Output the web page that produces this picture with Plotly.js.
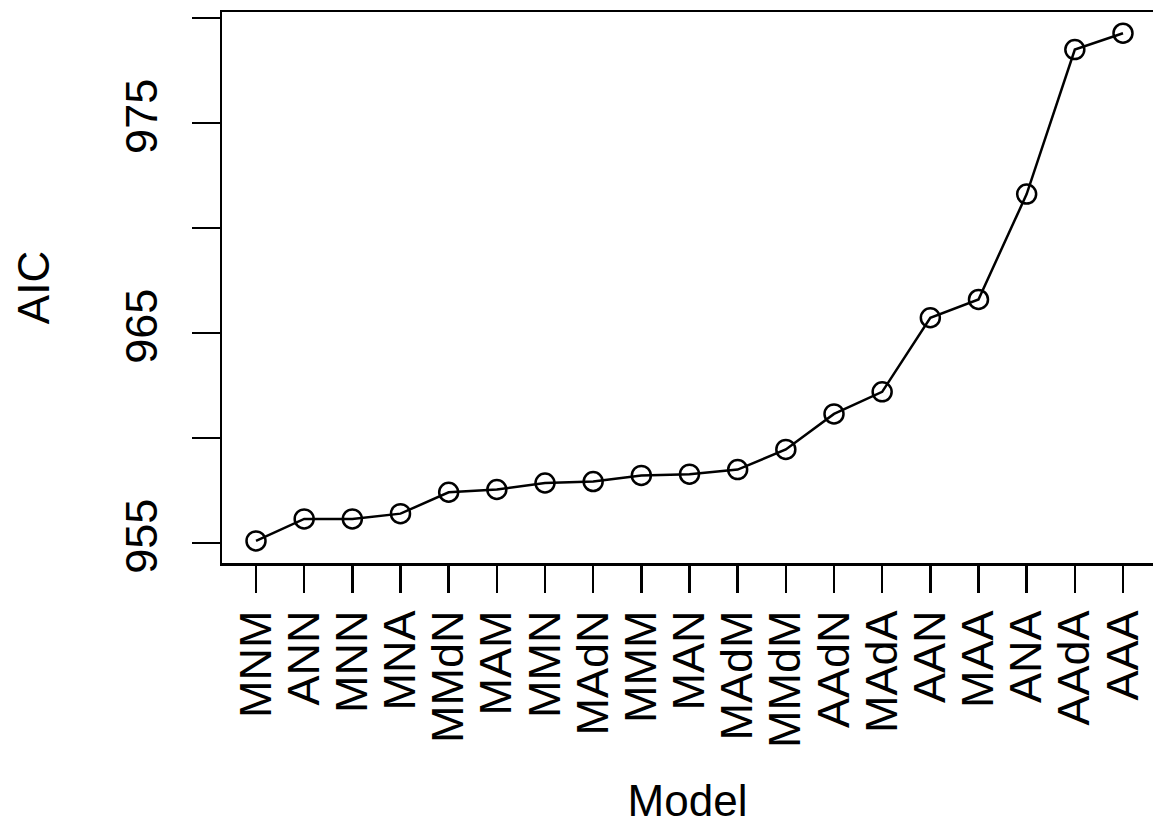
<!DOCTYPE html>
<html>
<head>
<meta charset="utf-8">
<script src="https://cdn.plot.ly/plotly-3.0.1.min.js"></script>
<style>
  html, body { margin: 0; padding: 0; background: #fff; overflow: hidden; }
  #chart { width: 1153px; height: 825px; }
</style>
</head>
<body>
<div id="chart"></div>
<script>
// Model names, ordered by AIC
const models = ["MNM", "ANN", "MNN", "MNA", "MMdN", "MAM", "MMN", "MAdN", "MMM", "MAN",
                "MAdM", "MMdM", "AAdN", "MAdA", "AAN", "MAA", "ANA", "AAdA", "AAA"];
// AIC for each model
const aic = [955.1, 956.15, 956.15, 956.4, 957.42, 957.55, 957.86, 957.93, 958.22, 958.28,
             958.5, 959.46, 961.15, 962.2, 965.73, 966.6, 971.62, 978.5, 979.28];
// y-axis ticks: every 5, only alternate ones labelled
const yTickVals = [955, 960, 965, 970, 975, 980];
const yTickText = ["955", "", "965", "", "975", ""];

const idx = models.map((_, i) => i + 1);
const font = "Liberation Sans, Arial, Helvetica, sans-serif";

const trace = {
  x: idx,
  y: aic,
  type: "scatter",
  mode: "lines+markers",
  line: { color: "#000", width: 2.5 },
  marker: { symbol: "circle-open", size: 19, color: "#000", line: { width: 2.5, color: "#000" } },
  hoverinfo: "x+y"
};

const layout = {
  width: 1153,
  height: 825,
  margin: { l: 222, r: 0, t: 12, b: 262 },
  paper_bgcolor: "#fff",
  plot_bgcolor: "#fff",
  showlegend: false,
  font: { family: font, color: "#000", size: 45 },
  xaxis: {
    range: [0.294, 19.623],
    tickmode: "array",
    tickvals: idx,
    ticktext: models,
    tickangle: -90,
    ticks: "outside",
    ticklen: 27,
    tickwidth: 2.5,
    tickcolor: "#000",
    ticklabelstandoff: 0,
    showgrid: false,
    zeroline: false,
    showline: true,
    linecolor: "#000",
    linewidth: 2.5,
    mirror: true,
    tickfont: { family: font, size: 45, color: "#000" },
    title: { text: "Model", font: { family: font, size: 44, color: "#000" }, standoff: 42 }
  },
  yaxis: {
    range: [954.05, 980.29],
    tickmode: "array",
    tickvals: yTickVals,
    ticktext: yTickText,
    tickangle: -90,
    ticks: "outside",
    ticklen: 28,
    tickwidth: 2.5,
    tickcolor: "#000",
    ticklabelstandoff: 17,
    showgrid: false,
    zeroline: false,
    showline: true,
    linecolor: "#000",
    linewidth: 2.5,
    mirror: false,
    tickfont: { family: font, size: 45, color: "#000" },
    title: { text: "AIC", font: { family: font, size: 44, color: "#000" }, standoff: 52 }
  }
};

Plotly.newPlot("chart", [trace], layout, { displayModeBar: false, staticPlot: true });
</script>
</body>
</html>
